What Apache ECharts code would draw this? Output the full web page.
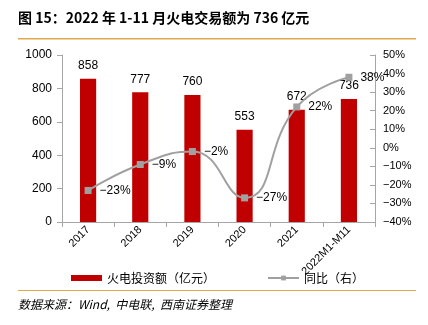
<!DOCTYPE html>
<html><head><meta charset="utf-8">
<script src="https://cdn.jsdelivr.net/npm/echarts@6/dist/echarts.min.js"></script>
<style>html,body{margin:0;padding:0;background:#fff}#c{width:428px;height:325px}</style>
</head><body><div id="c"></div>
<script>
const categories = ['2017','2018','2019','2020','2021','2022M1-M11'];
const investment = [858, 777, 760, 553, 672, 736];
const yoy = [-23, -9, -2, -27, 22, 38];
const leftTicks = {min:0, max:1000, interval:200};
const rightTicks = {min:-40, max:50, interval:10};

const chart = echarts.init(document.getElementById('c'));
const font = 'Liberation Sans, Arial, sans-serif';
const axisGray = '#a6a6a6';
const pct = v => (v<0 ? '\u2212'+Math.abs(v) : v) + '%';
chart.setOption({
  animation:false,
  textStyle:{fontFamily:font},
  graphic:[
    {type:'text', left:18, top:11, style:{text:'图 15：2022 年 1-11 月火电交易额为 736 亿元', font:'bold 14px "Noto Sans CJK SC", sans-serif', fill:'#000'}},
    {type:'rect', shape:{x:18, y:38, width:398, height:1.5}, style:{fill:'#E3A84A'}},
    {type:'rect', shape:{x:18, y:290, width:398, height:1}, style:{fill:'#E3A84A'}},
    {type:'text', left:18, top:298, style:{text:'数据来源：Wind,  中电联,  西南证券整理', font:'italic 12px "Noto Sans CJK SC", sans-serif', fill:'#000'}}
  ],
  grid:{left:62, right:53, top:55, bottom:103},
  legend:{
    bottom:36, left:66, itemGap:52,
    textStyle:{fontSize:12, color:'#000', fontFamily:'"Noto Sans CJK SC", sans-serif'},
    data:[
      {name:'火电投资额（亿元）', icon:'rect'},
      {name:'同比（右）'}
    ],
    itemWidth:31, itemHeight:6
  },
  xAxis:{
    type:'category', data:categories,
    axisLine:{lineStyle:{color:axisGray}},
    axisTick:{show:true, alignWithLabel:false, lineStyle:{color:axisGray}},
    axisLabel:{rotate:45, color:'#000', fontSize:11, interval:0, margin:6}
  },
  yAxis:[
    {type:'value', min:leftTicks.min, max:leftTicks.max, interval:leftTicks.interval,
     splitLine:{show:false},
     axisLine:{show:true, lineStyle:{color:axisGray}},
     axisTick:{show:true, lineStyle:{color:axisGray}},
     axisLabel:{color:'#000', fontSize:12, margin:10, formatter:v => String(v)}},
    {type:'value', min:rightTicks.min, max:rightTicks.max, interval:rightTicks.interval,
     splitLine:{show:false},
     axisLine:{show:true, lineStyle:{color:axisGray}},
     axisTick:{show:true, inside:true, lineStyle:{color:axisGray}},
     axisLabel:{color:'#000', fontSize:11, margin:8, formatter:pct}}
  ],
  series:[
    {name:'火电投资额（亿元）', type:'bar', data:investment, barWidth:'31%',
     itemStyle:{color:'#C00000'},
     label:{show:true, position:'top', distance:7, color:'#000', fontSize:12}},
    {name:'同比（右）', type:'line', yAxisIndex:1, data:yoy, smooth:0.5,
     symbol:'rect', symbolSize:7,
     lineStyle:{color:'#a0a0a0', width:2},
     itemStyle:{color:'#a0a0a0'},
     label:{show:true, position:'right', distance:8, color:'#000', fontSize:12,
       formatter:p => pct(p.value)}}
  ]
});
</script></body></html>
